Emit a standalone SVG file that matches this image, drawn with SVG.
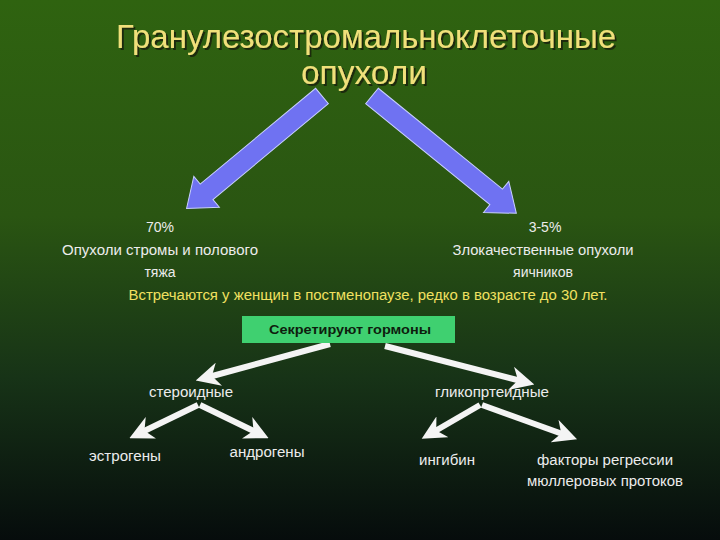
<svg xmlns="http://www.w3.org/2000/svg" width="720" height="540" viewBox="0 0 720 540">
<defs>
<linearGradient id="bg" x1="0" y1="0" x2="0" y2="1">
<stop offset="0" stop-color="#2f6310"/><stop offset="0.4" stop-color="#2a5512"/><stop offset="0.7" stop-color="#173317"/><stop offset="1" stop-color="#060c0c"/>
</linearGradient>
<filter id="ds" x="-5%" y="-20%" width="110%" height="140%">
<feDropShadow dx="2" dy="2" stdDeviation="0.5" flood-color="#1a2a08" flood-opacity="1"/>
</filter>
<marker id="wh" viewBox="0 0 10 10" refX="6" refY="5" markerWidth="4" markerHeight="4" orient="auto" markerUnits="strokeWidth">
<path d="M0,0 L10,5 L0,10 L3,5 z" fill="#f4f4f4"/>
</marker>
<style>
.t{font-family:"Liberation Sans",Arial,sans-serif;font-size:14px;fill:#ececec;text-anchor:middle}
.ttl{font-family:"Liberation Sans",Arial,sans-serif;font-size:33px;fill:#f0e07a;text-anchor:middle;filter:url(#ds)}
.wa{stroke:#f4f4f4;stroke-width:6;fill:none;marker-end:url(#wh)}
.ba{fill:#6f72f2;stroke:#c8d0ff;stroke-width:1}
</style>
</defs>
<rect width="720" height="540" fill="url(#bg)"/>
<g id="title">
<text class="ttl" x="366" y="48" textLength="500" lengthAdjust="spacingAndGlyphs">Гранулезостромальноклеточные</text>
<text class="ttl" x="364" y="84" textLength="126" lengthAdjust="spacingAndGlyphs">опухоли</text>
</g>
<g id="connectors">
<polygon class="ba" transform="translate(322,96) rotate(140.3)" points="0,-10 150,-10 150,-20 176,0 150,20 150,10 0,10"/>
<polygon class="ba" transform="translate(372,96) rotate(39.1)" points="0,-10 160,-10 160,-20 186,0 160,20 160,10 0,10"/>
<path class="wa" d="M330,344 L205,378"/>
<path class="wa" d="M385,346 L525,382"/>
<path class="wa" d="M198,405 L138,434"/>
<path class="wa" d="M200,405 L260,434"/>
<path class="wa" d="M480,405 L430,434"/>
<path class="wa" d="M482,405 L568,436"/>
</g>
<g id="left">
<text class="t" x="160" y="232">70%</text>
<text class="t" x="160" y="255" textLength="196" lengthAdjust="spacingAndGlyphs">Опухоли стромы и полового</text>
<text class="t" x="160" y="277">тяжа</text>
</g>
<g id="right">
<text class="t" x="545" y="232">3-5%</text>
<text class="t" x="543" y="255" textLength="181" lengthAdjust="spacingAndGlyphs">Злокачественные опухоли</text>
<text class="t" x="543" y="277">яичников</text>
</g>
<g id="note">
<text class="t" x="368" y="300" style="fill:#f0e060" textLength="479" lengthAdjust="spacingAndGlyphs">Встречаются у женщин в постменопаузе, редко в возрасте до 30 лет.</text>
</g>
<g id="box">
<rect x="242" y="316" width="213" height="27" fill="#3fd070"/>
<text x="350" y="334" style="font-family:'Liberation Sans',Arial,sans-serif;font-size:13px;font-weight:bold;fill:#0e1e0e;text-anchor:middle" textLength="162" lengthAdjust="spacingAndGlyphs">Секретируют гормоны</text>
</g>
<g id="steroid"><text class="t" x="191" y="397" textLength="84" lengthAdjust="spacingAndGlyphs">стероидные</text></g>
<g id="glyco"><text class="t" x="492" y="397" textLength="114" lengthAdjust="spacingAndGlyphs">гликопртеидные</text></g>
<g id="estr"><text class="t" x="125" y="461" textLength="72" lengthAdjust="spacingAndGlyphs">эстрогены</text></g>
<g id="andr"><text class="t" x="267" y="457" textLength="75" lengthAdjust="spacingAndGlyphs">андрогены</text></g>
<g id="ingib"><text class="t" x="447" y="465" textLength="56" lengthAdjust="spacingAndGlyphs">ингибин</text></g>
<g id="factors">
<text class="t" x="605" y="465" textLength="136" lengthAdjust="spacingAndGlyphs">факторы регрессии</text>
<text class="t" x="605" y="486" textLength="156" lengthAdjust="spacingAndGlyphs">мюллеровых протоков</text>
</g>
</svg>
